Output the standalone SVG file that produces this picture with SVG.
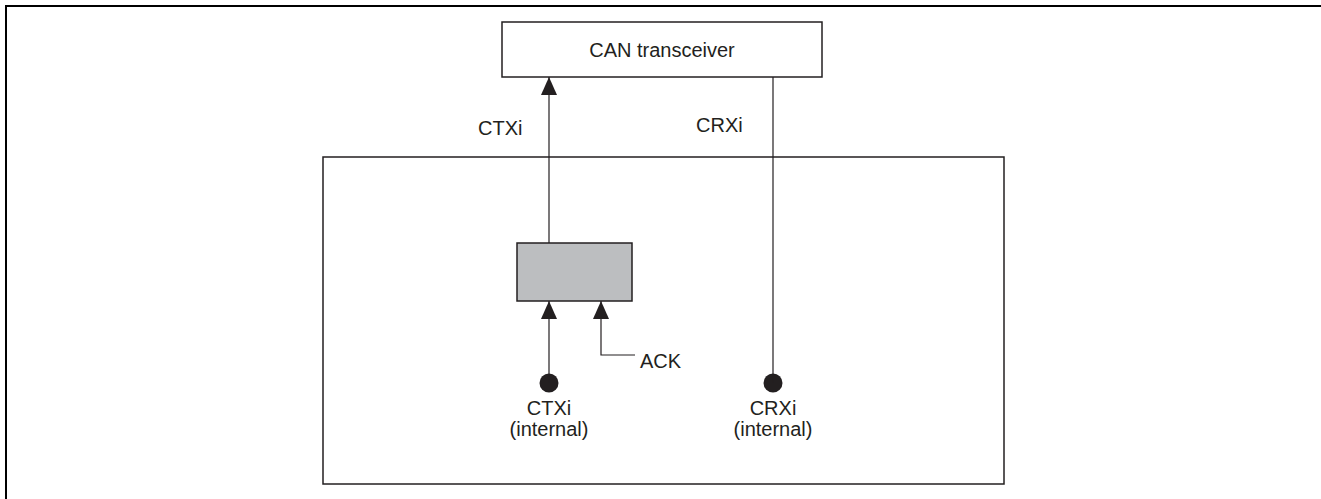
<svg xmlns="http://www.w3.org/2000/svg" width="1321" height="499" viewBox="0 0 1321 499">
<style>
.t{font-family:"Liberation Sans",Arial,sans-serif;font-size:20px;fill:#231f20}
.ln{stroke:#231f20;stroke-width:1.2;fill:none}
.bx{stroke:#231f20;stroke-width:1.5;fill:#fff}
</style>
<defs>
<marker id="ah" viewBox="0 0 18 16" refX="18" refY="8" markerWidth="18" markerHeight="16" markerUnits="userSpaceOnUse" orient="auto"><path d="M0,0 L18,8 L0,16 Z" fill="#231f20"/></marker>
</defs>
<rect width="1321" height="499" fill="#fff"/>
<g id="frame"><path d="M6,499 V6 H1321" fill="none" stroke="#000" stroke-width="2"/></g>
<g id="mcu"><rect class="bx" x="323" y="157" width="681" height="327"/></g>
<g id="transceiver"><rect class="bx" x="502" y="22" width="320" height="55"/><text class="t" x="662" y="57" text-anchor="middle">CAN transceiver</text></g>
<g id="gate"><rect x="517" y="243" width="115" height="58" fill="#bcbec0" stroke="#231f20" stroke-width="1.5"/></g>
<g id="ctxi-pin"><circle cx="549" cy="383" r="9.5" fill="#231f20"/><text class="t" x="549" y="415" text-anchor="middle">CTXi</text><text class="t" x="549" y="436" text-anchor="middle">(internal)</text></g>
<g id="crxi-pin"><circle cx="773" cy="383" r="9.5" fill="#231f20"/><text class="t" x="773" y="415" text-anchor="middle">CRXi</text><text class="t" x="773" y="436" text-anchor="middle">(internal)</text></g>
<g id="labels"><text class="t" x="478" y="135">CTXi</text><text class="t" x="696" y="132">CRXi</text><text class="t" x="640" y="368">ACK</text></g>
<g id="connectors">
<line class="ln" x1="549" y1="243" x2="549" y2="77" marker-end="url(#ah)"/>
<line class="ln" x1="773" y1="77" x2="773" y2="383"/>
<line class="ln" x1="549" y1="383" x2="549" y2="301" marker-end="url(#ah)"/>
<polyline class="ln" points="635,355 601,355 601,301" marker-end="url(#ah)"/>
</g>
</svg>
